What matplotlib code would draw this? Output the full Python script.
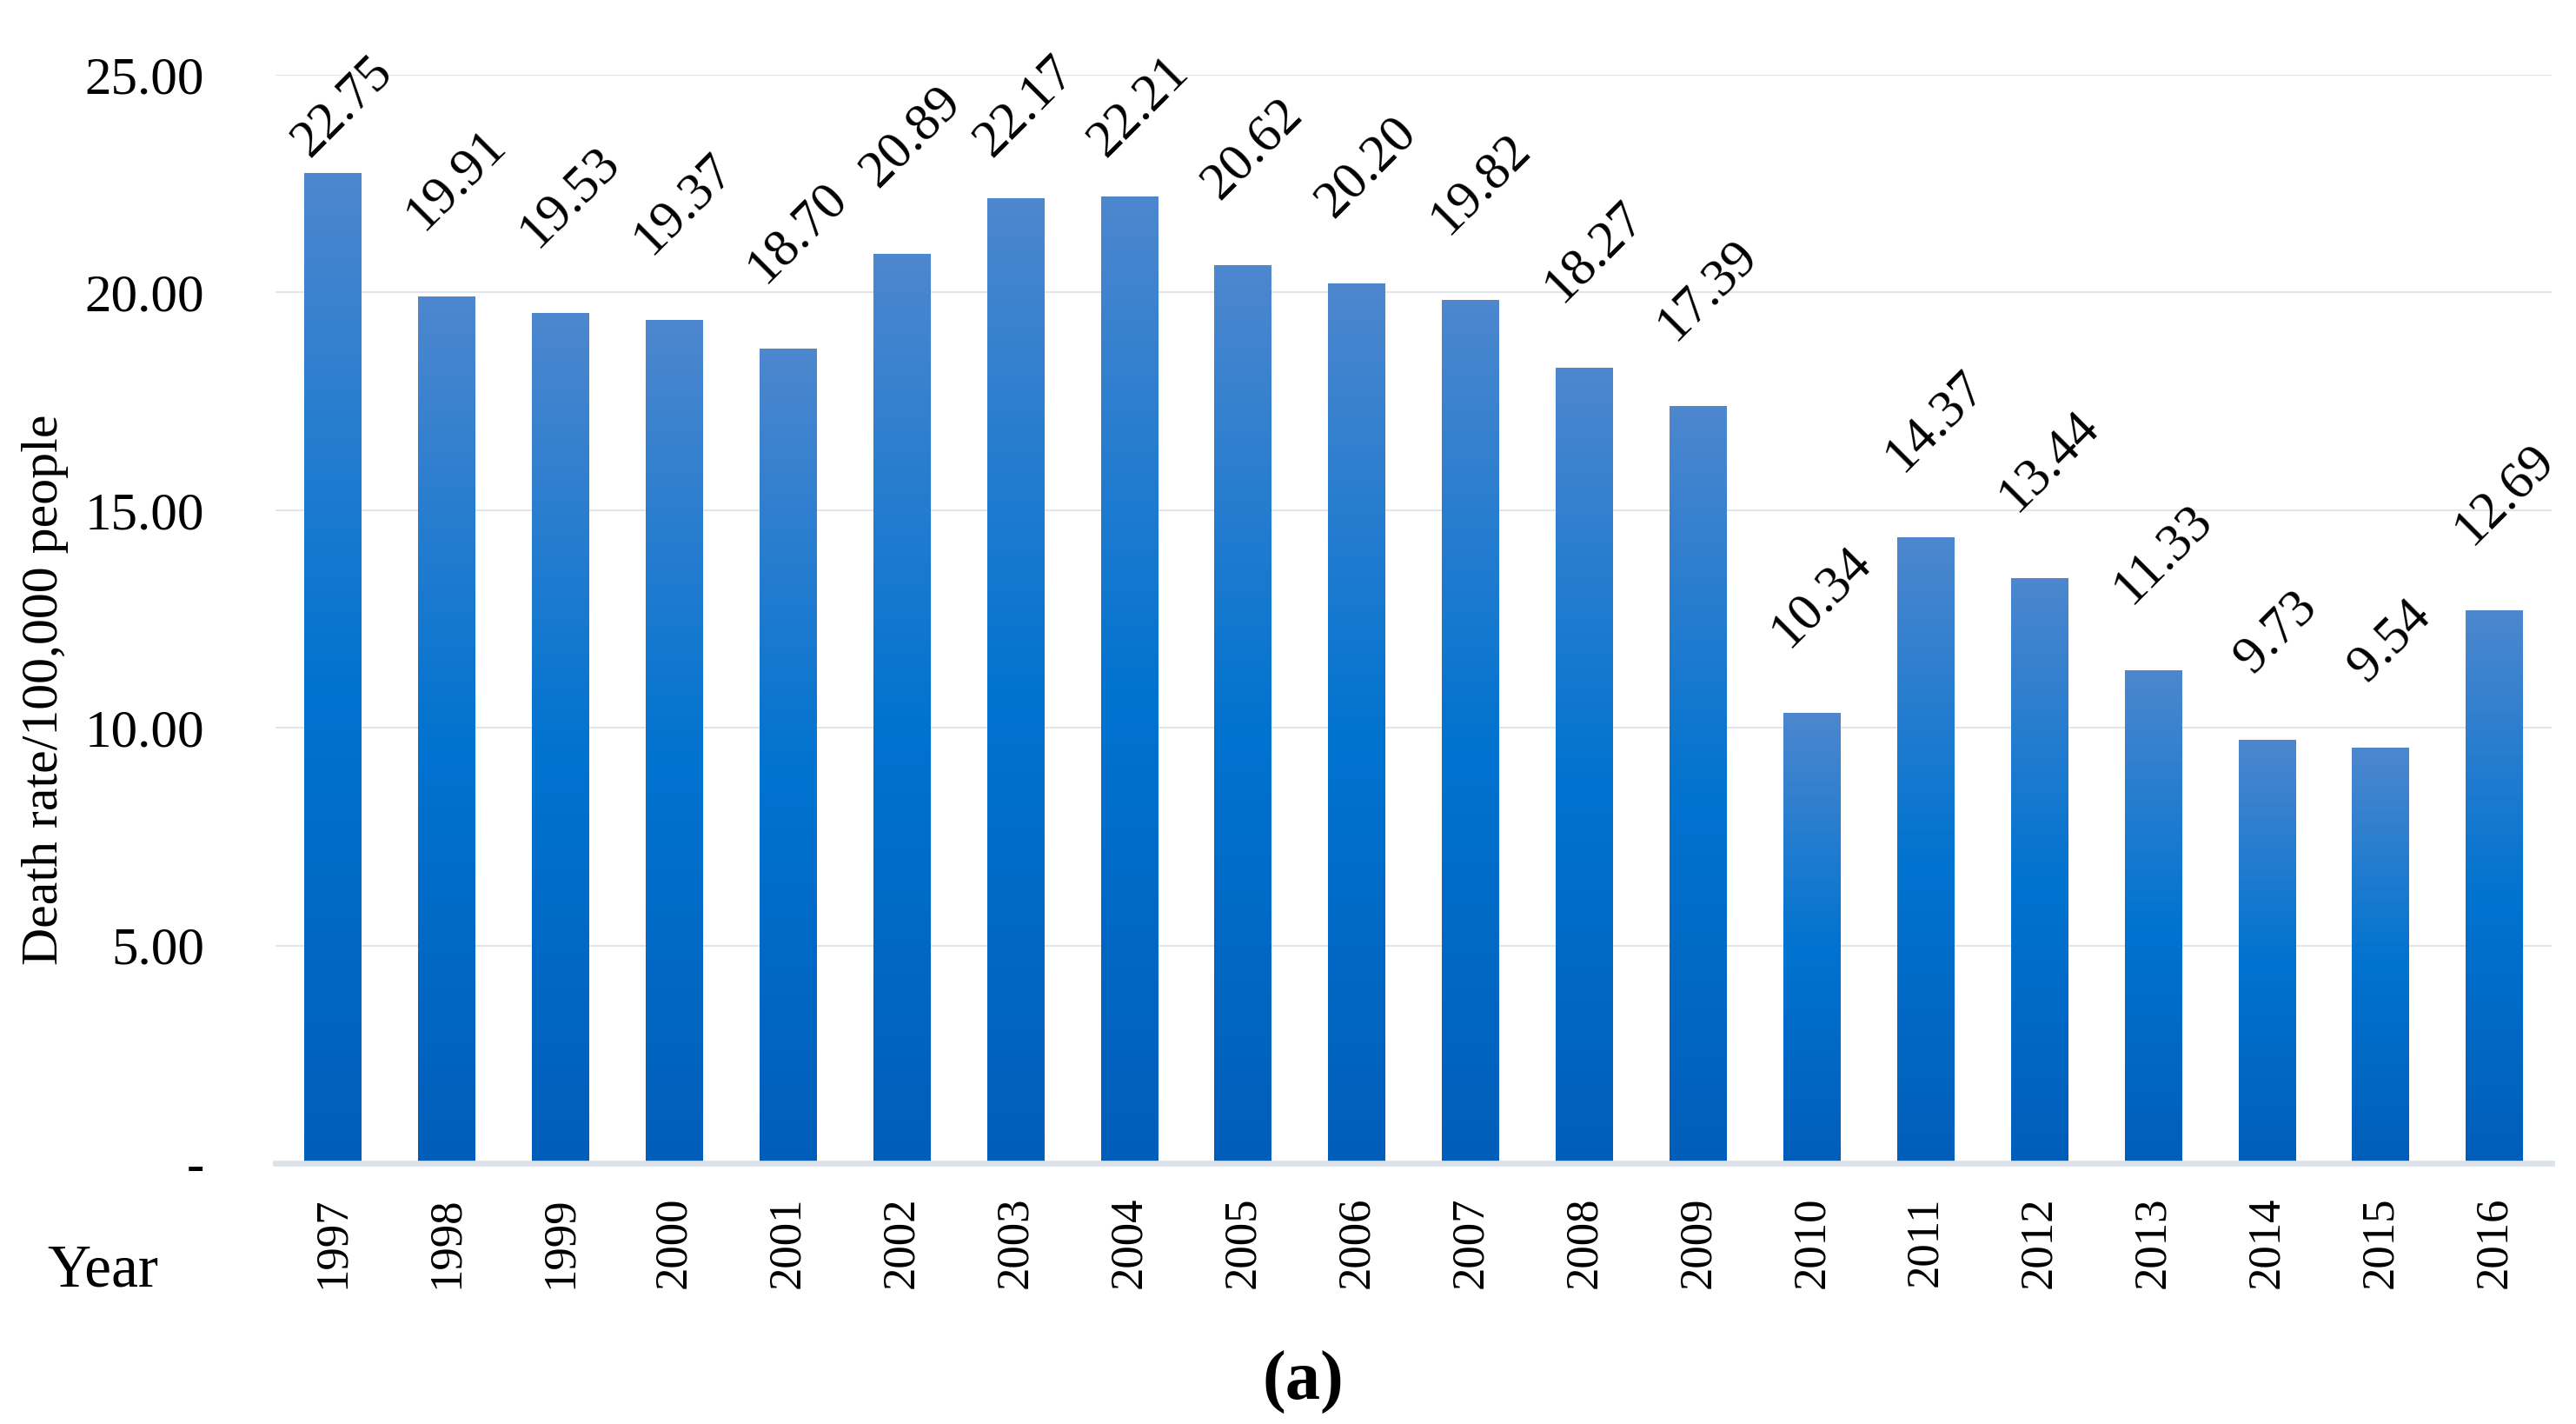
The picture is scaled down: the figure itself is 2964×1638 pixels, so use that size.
import numpy as np
import matplotlib
matplotlib.use("Agg")
import matplotlib.pyplot as plt
from matplotlib.colors import LinearSegmentedColormap

years = ["1997", "1998", "1999", "2000", "2001", "2002", "2003", "2004", "2005", "2006",
         "2007", "2008", "2009", "2010", "2011", "2012", "2013", "2014", "2015", "2016"]
rates = [22.75, 19.91, 19.53, 19.37, 18.70, 20.89, 22.17, 22.21, 20.62, 20.20,
         19.82, 18.27, 17.39, 10.34, 14.37, 13.44, 11.33, 9.73, 9.54, 12.69]
yticks = [0, 5, 10, 15, 20, 25]
ytick_labels = ["-", "5.00", "10.00", "15.00", "20.00", "25.00"]

plt.rcParams['font.family'] = ['Liberation Serif', 'DejaVu Serif']

fig = plt.figure(figsize=(14.82, 8.19), dpi=200)
ax = fig.add_axes([0.1071, 0.1832, 0.8833, 0.7643])

x = np.arange(len(years))
bars = ax.bar(x, rates, width=0.5, color='none', edgecolor='none', zorder=3)

cmap = LinearSegmentedColormap.from_list(
    "excelblue", [(0.0, "#005EBA"), (0.48, "#0073D0"), (1.0, "#4D87CE")])
grad = np.linspace(0, 1, 256).reshape(-1, 1)
for b in bars:
    x0 = b.get_x()
    w = b.get_width()
    h = b.get_height()
    im = ax.imshow(grad, cmap=cmap, origin='lower', aspect='auto',
                   extent=[x0, x0 + w, 0, h], zorder=3, interpolation='bilinear')
    im.set_clip_path(b)

# labels sit above each bar; kept inside the chart area near the top
label_cap = 21.6
for xi, v in zip(x, rates):
    ax.annotate(f"{v:.2f}", xy=(xi, min(v, label_cap)), xytext=(4, 23.6),
                textcoords='offset points', rotation=45, ha='center', va='bottom',
                fontsize=22, zorder=5, annotation_clip=False)

ax.set_xlim(-0.5, len(years) - 0.5)
ax.set_ylim(0, 25)
ax.set_yticks(yticks)
ax.set_yticklabels(ytick_labels, fontsize=22)
ax.set_xticks(x)
ax.set_xticklabels(years, rotation=90, fontsize=19)
ax.tick_params(axis='y', length=0, pad=29.7)
ax.tick_params(axis='x', length=0, pad=14)
ax.grid(axis='y', color='#e2e6eb', linewidth=0.75, zorder=0)
ax.set_axisbelow(True)
for s in ['top', 'right', 'left']:
    ax.spines[s].set_visible(False)
ax.spines['bottom'].set_color('#dce2e9')
ax.spines['bottom'].set_linewidth(2.4)
ax.spines['bottom'].set_zorder(4)

fig.text(0.0175, 0.516, "Death rate/100,000 people", rotation=90, ha='center', va='center', fontsize=21.5)
fig.text(0.040, 0.107, "Year", ha='center', va='center', fontsize=25)
fig.text(0.506, 0.029, "(a)", ha='center', va='center', fontsize=29, fontweight='bold')

fig.savefig("out.png", dpi=200)
